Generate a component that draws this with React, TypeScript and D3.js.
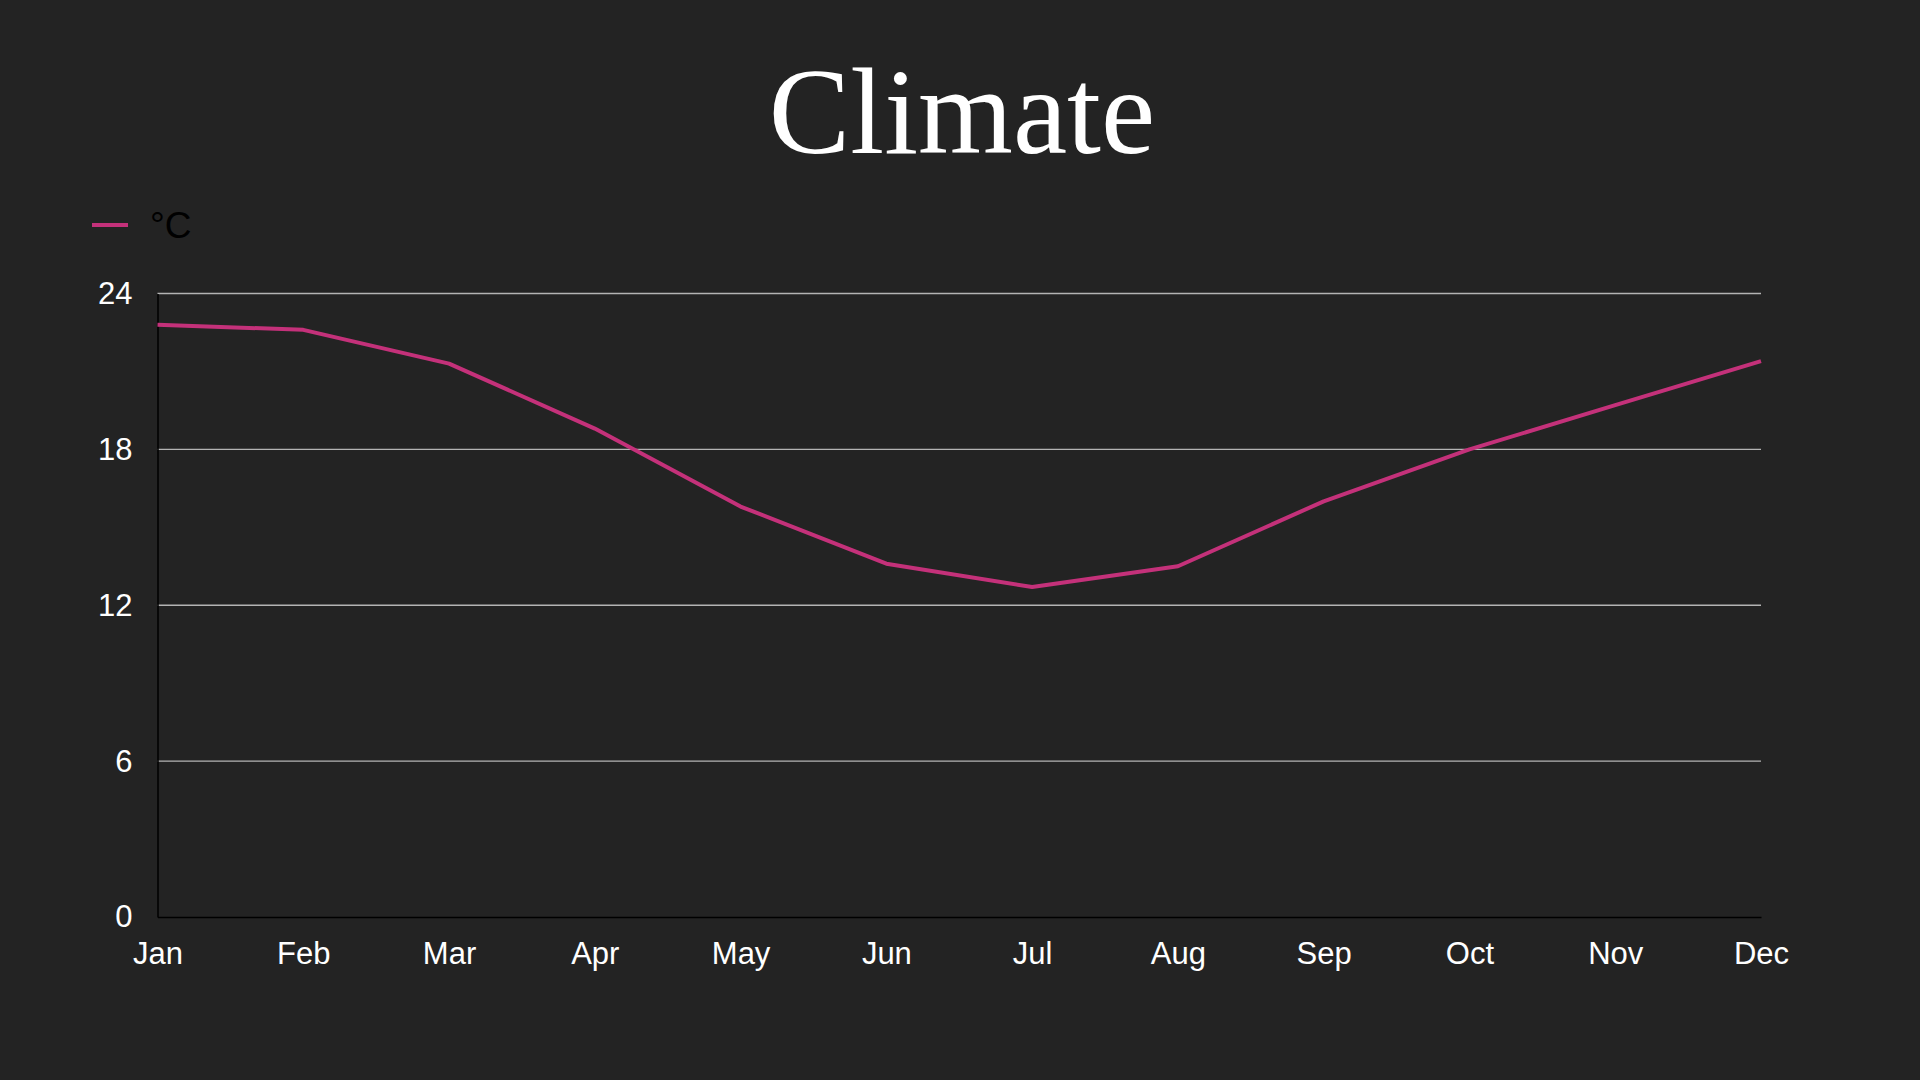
import React, { useEffect, useRef } from 'react';
import * as d3 from 'd3';

const months = ['Jan', 'Feb', 'Mar', 'Apr', 'May', 'Jun', 'Jul', 'Aug', 'Sep', 'Oct', 'Nov', 'Dec'];
const temps = [22.8, 22.6, 21.3, 18.8, 15.8, 13.6, 12.7, 13.5, 16.0, 18.0, 19.7, 21.4];
const yTicks = [0, 6, 12, 18, 24];
const seriesName = '°C';
const title = 'Climate';

const App: React.FC = () => {
  const svgRef = useRef<SVGSVGElement>(null);

  useEffect(() => {
    document.body.style.margin = '0';
    if (!svgRef.current) return;

    const width = 1920;
    const height = 1080;
    const margin = { top: 293.5, right: 159, bottom: 163, left: 157.5 };
    const innerH = height - margin.top - margin.bottom;
    const innerW = width - margin.left - margin.right;

    const root = d3.select(svgRef.current);
    root.selectAll('*').remove();

    root.append('rect').attr('width', width).attr('height', height).attr('fill', '#232323');

    // Title
    root.append('text')
      .attr('x', 962)
      .attr('y', 153)
      .attr('text-anchor', 'middle')
      .attr('fill', '#ffffff')
      .attr('font-family', '"Liberation Serif", "DejaVu Serif", serif')
      .attr('font-size', 122)
      .text(title);

    // Legend
    root.append('line')
      .attr('x1', 92).attr('x2', 128)
      .attr('y1', 225).attr('y2', 225)
      .attr('stroke', '#c4317a')
      .attr('stroke-width', 4);
    root.append('text')
      .attr('x', 150)
      .attr('y', 238)
      .attr('fill', '#000000')
      .attr('font-family', '"Liberation Sans", Arial, sans-serif')
      .attr('font-size', 37)
      .text(seriesName);

    const svg = root.append('g').attr('transform', `translate(${margin.left},${margin.top})`);

    const x = d3.scalePoint<string>().domain(months).range([0, innerW]);
    const y = d3.scaleLinear().domain([0, 24]).range([innerH, 0]);

    // Grid
    svg.append('g')
      .selectAll('line')
      .data(yTicks.filter(t => t > 0))
      .join('line')
      .attr('x1', 0).attr('x2', innerW)
      .attr('y1', d => y(d)).attr('y2', d => y(d))
      .attr('stroke', '#b4b4b4')
      .attr('stroke-width', 1.3);

    // Axes
    const yAxis = d3.axisLeft(y).tickValues(yTicks).tickSize(0).tickPadding(25);
    svg.append('g')
      .call(yAxis)
      .call(g => g.select('.domain').attr('stroke', '#000').attr('stroke-width', 1.5))
      .call(g => g.selectAll('.tick text')
        .attr('fill', '#ffffff')
        .attr('font-family', '"Liberation Sans", Arial, sans-serif')
        .attr('font-size', 31));

    const xAxis = d3.axisBottom(x).tickSize(0).tickPadding(25);
    svg.append('g')
      .attr('transform', `translate(0,${innerH})`)
      .call(xAxis)
      .call(g => g.select('.domain').attr('stroke', '#000').attr('stroke-width', 1.5))
      .call(g => g.selectAll('.tick text')
        .attr('fill', '#ffffff')
        .attr('font-family', '"Liberation Sans", Arial, sans-serif')
        .attr('font-size', 31));

    // Line
    const line = d3.line<number>()
      .x((_, i) => x(months[i]) as number)
      .y(d => y(d));

    svg.append('path')
      .datum(temps)
      .attr('fill', 'none')
      .attr('stroke', '#c4317a')
      .attr('stroke-width', 4)
      .attr('stroke-linejoin', 'round')
      .attr('d', line);
  }, []);

  return <svg ref={svgRef} width={1920} height={1080} style={{ display: 'block' }} />;
};

export default App;
